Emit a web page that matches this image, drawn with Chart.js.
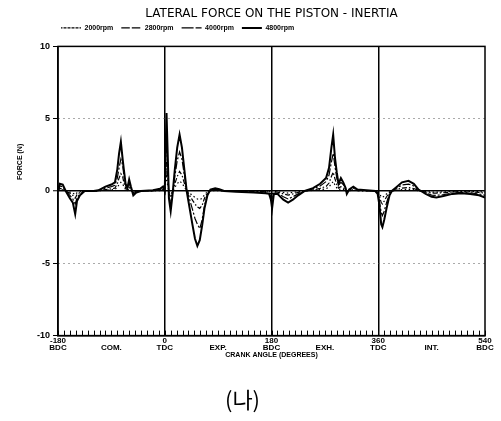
<!DOCTYPE html>
<html><head><meta charset="utf-8">
<script src="https://cdn.jsdelivr.net/npm/chart.js@4.4.1/dist/chart.umd.min.js"></script>
<style>html,body{margin:0;padding:0;background:#fff}#wrap{width:501px;height:421px;position:relative}</style>
</head><body><div id="wrap"><canvas id="c" width="501" height="421"></canvas></div>
<script>
const chartTitle = 'LATERAL FORCE ON THE PISTON - INERTIA';
const caption = '(나)';
const xTitle = 'CRANK ANGLE (DEGREES)';
const yTitle = 'FORCE (N)';
const seriesNames = ['2000rpm', '2800rpm', '4000rpm', '4800rpm'];
const xLabels = {'-180': ['-180', 'BDC'], '-90': ['', 'COM.'], '0': ['0', 'TDC'], '90': ['', 'EXP.'],
  '180': ['180', 'BDC'], '270': ['', 'EXH.'], '360': ['360', 'TDC'], '450': ['', 'INT.'], '540': ['540', 'BDC']};
const strokeAngles = [0, 180, 360];

const angles = [
  -180, -177, -172, -167, -160, -155, -151, -148, -143, -135,
  -120, -112, -100, -90, -84, -80, -77, -74, -71, -69,
  -66, -63, -60, -57, -53, -48, -40, -20, -8, -3,
  0, 1, 3, 5, 7, 10, 13, 17, 21, 25,
  29, 33, 37, 42, 47, 51, 55, 59, 63, 67,
  72, 77, 85, 92, 100, 120, 150, 170, 176, 179,
  181, 184, 190, 200, 208, 216, 225, 236, 250, 262,
  272, 277, 281, 284, 287, 290, 293, 297, 301, 305,
  307, 311, 318, 325, 340, 355, 359, 362, 365, 367,
  370, 374, 379, 383, 390, 400, 411, 420, 428, 432,
  440, 450, 458, 470, 485, 500, 515, 530, 540];

const rpm2000 = [
  0, 0.09, 0.08, 0, -0.08, -0.14, -0.25, -0.12, -0.05, 0,
  0, 0.01, 0.05, 0.08, 0.1, 0.25, 0.45, 0.6, 0.5, 0.3,
  0.1, 0.04, 0.12, 0.05, -0.05, -0.02, 0, 0.01, 0.03, 0.05,
  0, 0.35, 1.0, 0.45, -0.08, -0.22, -0.05, 0.25, 0.5, 0.68,
  0.55, 0.28, 0.02, -0.15, -0.32, -0.45, -0.55, -0.6, -0.5, -0.25,
  -0.05, 0.02, 0.03, 0.02, 0, -0.01, -0.02, -0.03, -0.04, -0.1,
  -0.2, -0.04, -0.04, -0.1, -0.14, -0.1, -0.05, 0, 0.04, 0.09,
  0.16, 0.28, 0.5, 0.65, 0.42, 0.22, 0.1, 0.15, 0.11, 0.04,
  -0.04, 0.02, 0.05, 0.02, 0.01, 0, -0.04, -0.18, -0.4, -0.45,
  -0.35, -0.2, -0.05, 0, 0.04, 0.1, 0.12, 0.09, 0.02, 0,
  -0.04, -0.07, -0.08, -0.06, -0.04, -0.03, -0.04, -0.05, -0.08];

const rpm2800 = [
  0, 0.18, 0.15, 0, -0.15, -0.3, -0.5, -0.25, -0.1, 0,
  0, 0.02, 0.1, 0.15, 0.2, 0.5, 0.9, 1.2, 1.0, 0.6,
  0.2, 0.08, 0.25, 0.1, -0.1, -0.03, 0, 0.02, 0.05, 0.1,
  0, 0.7, 2.0, 0.9, -0.15, -0.45, -0.1, 0.5, 1.0, 1.35,
  1.1, 0.55, 0.05, -0.3, -0.65, -0.9, -1.1, -1.2, -1.0, -0.5,
  -0.1, 0.03, 0.06, 0.04, 0, -0.02, -0.04, -0.05, -0.07, -0.2,
  -0.4, -0.08, -0.08, -0.2, -0.28, -0.2, -0.1, 0, 0.07, 0.18,
  0.32, 0.55, 1.0, 1.3, 0.85, 0.45, 0.2, 0.3, 0.22, 0.07,
  -0.07, 0.03, 0.1, 0.03, 0.02, 0, -0.07, -0.35, -0.8, -0.9,
  -0.7, -0.4, -0.1, 0, 0.08, 0.2, 0.24, 0.17, 0.03, 0,
  -0.07, -0.14, -0.15, -0.12, -0.07, -0.05, -0.07, -0.1, -0.15];

const rpm4000 = [
  0, 0.35, 0.3, 0, -0.3, -0.55, -0.9, -0.5, -0.2, 0,
  0, 0.03, 0.2, 0.3, 0.4, 0.9, 1.6, 2.2, 1.8, 1.1,
  0.4, 0.15, 0.5, 0.2, -0.2, -0.05, 0, 0.03, 0.1, 0.2,
  0, 1.4, 4.0, 1.8, -0.3, -0.9, -0.2, 1.0, 2.1, 2.7,
  2.2, 1.1, 0.1, -0.6, -1.3, -1.9, -2.3, -2.6, -2.0, -1.0,
  -0.2, 0.07, 0.12, 0.08, 0, -0.03, -0.07, -0.1, -0.15, -0.4,
  -0.8, -0.15, -0.15, -0.4, -0.55, -0.4, -0.2, 0, 0.14, 0.35,
  0.65, 1.1, 2.0, 2.6, 1.7, 0.9, 0.4, 0.6, 0.45, 0.15,
  -0.15, 0.07, 0.2, 0.07, 0.03, 0, -0.15, -0.7, -1.5, -1.7,
  -1.4, -0.8, -0.2, 0, 0.17, 0.42, 0.48, 0.35, 0.07, 0,
  -0.14, -0.28, -0.3, -0.25, -0.14, -0.1, -0.14, -0.2, -0.3];

const rpm4800 = [
  0, 0.5, 0.45, 0, -0.5, -0.8, -1.6, -0.7, -0.3, 0,
  0, 0.05, 0.3, 0.45, 0.6, 1.5, 2.6, 3.4, 2.2, 1.5,
  0.5, 0.2, 0.8, 0.3, -0.3, -0.1, 0, 0.05, 0.15, 0.3,
  0, 2, 5.4, 2.5, -0.5, -1.4, -0.3, 1.5, 3.0, 3.9,
  3.0, 1.5, 0, -1.2, -2.4, -3.3, -3.8, -3.4, -2.4, -1.2,
  -0.3, 0.1, 0.18, 0.12, 0, -0.05, -0.1, -0.15, -0.2, -0.6,
  -1.2, -0.2, -0.2, -0.6, -0.8, -0.6, -0.3, 0, 0.2, 0.5,
  0.9, 1.6, 3.0, 3.9, 2.3, 1.3, 0.5, 0.9, 0.6, 0.2,
  -0.2, 0.1, 0.3, 0.1, 0.05, 0, -0.2, -1.0, -2.3, -2.5,
  -2.0, -1.2, -0.3, 0, 0.25, 0.6, 0.7, 0.5, 0.1, 0,
  -0.2, -0.4, -0.45, -0.35, -0.2, -0.15, -0.2, -0.3, -0.45];

const seriesValues = [rpm2000, rpm2800, rpm4000, rpm4800];
const seriesDash = [[1.5, 2.5], [5, 2, 1.5, 2], [8, 2, 2, 2], []];
const seriesWidth = [1.2, 1.2, 1.2, 2];

const FONT = 'Liberation Sans';

const frame = {
  id: 'frame',
  afterLayout(chart) {
    const a = chart.chartArea;
    const lg = chart.legend;
    const w = lg.right - lg.left;
    lg.left = 53; lg.right = 53 + w;
    lg.top -= 5; lg.bottom -= 5;
    const tb = chart.titleBlock;
    tb.left = a.left; tb.right = a.right;
  },
  afterDatasetsDraw(chart) {
    const {ctx, chartArea: a, scales} = chart;
    ctx.save();
    ctx.strokeStyle = '#000';
    ctx.lineWidth = 1.5;
    ctx.strokeRect(a.left, a.top, a.right - a.left, a.bottom - a.top);
    ctx.lineWidth = 1;
    ctx.beginPath();
    scales.x.ticks.forEach(t => {
      const px = Math.round(scales.x.getPixelForValue(t.value)) + 0.5;
      ctx.moveTo(px, a.bottom);
      ctx.lineTo(px, a.bottom - 5);
    });
    ctx.stroke();
    ctx.restore();
  }
};

new Chart(document.getElementById('c'), {
  type: 'line',
  data: {
    datasets: seriesNames.map((n, k) => ({
      label: n,
      data: angles.map((a, i) => ({x: a, y: seriesValues[k][i]})),
      borderColor: '#000',
      backgroundColor: 'rgba(0,0,0,0)',
      borderWidth: seriesWidth[k],
      borderDash: seriesDash[k],
      pointRadius: 0,
      tension: 0,
      fill: false
    }))
  },
  options: {
    responsive: false,
    devicePixelRatio: 1,
    animation: false,
    layout: {padding: {left: 0, right: 16, top: 0, bottom: 8}},
    plugins: {
      title: {display: true, text: chartTitle, color: '#000', font: {family: 'DejaVu Sans', size: 12, weight: 'normal'}, padding: {top: 7, bottom: 0}},
      subtitle: {display: true, position: 'bottom', text: caption, color: '#000', font: {family: 'Noto Sans CJK KR', size: 22, weight: 'normal'}, padding: {top: 27, bottom: 0}},
      legend: {
        position: 'top', align: 'start',
        labels: {usePointStyle: false, boxWidth: 20, boxHeight: 0, color: '#000', padding: 8,
          font: {family: FONT, size: 7, weight: 'bold'}}
      },
      tooltip: {enabled: false}
    },
    scales: {
      x: {
        type: 'linear', min: -180, max: 540,
        ticks: {stepSize: 10, autoSkip: false, maxRotation: 0, color: '#000', padding: 2,
          font: {family: FONT, size: 8, weight: 'bold', lineHeight: 0.85},
          callback: v => xLabels[String(v)] || ''},
        grid: {color: c => strokeAngles.includes(c.tick && c.tick.value) ? '#000' : 'rgba(0,0,0,0)', lineWidth: 1.5, drawTicks: false},
        border: {display: true, color: '#000', width: 1.5},
        title: {display: true, text: xTitle, color: '#000', font: {family: FONT, size: 7, weight: 'bold'}, padding: {top: -2, bottom: 0}}
      },
      y: {
        min: -10, max: 10,
        afterFit: s => { s.width = 58; },
        ticks: {stepSize: 5, color: '#000', padding: 3, font: {family: FONT, size: 9, weight: 'bold'}},
        grid: {
          color: c => { const v = c.tick && c.tick.value; return v === 0 ? '#000' : (Math.abs(v) === 5 ? '#555' : 'rgba(0,0,0,0)'); },
          lineWidth: c => (c.tick && c.tick.value === 0) ? 1.5 : 1,
          drawTicks: true, tickLength: 5, tickColor: '#000', tickWidth: 1
        },
        border: {display: true, color: '#000', width: 1.5, dash: c => (c.tick && Math.abs(c.tick.value) === 5) ? [1, 4] : []},
        title: {display: true, text: '                              ' + yTitle, color: '#000', font: {family: FONT, size: 7, weight: 'bold'}, padding: {top: 16, bottom: 4}}
      }
    }
  },
  plugins: [frame]
});
</script>
</body></html>
